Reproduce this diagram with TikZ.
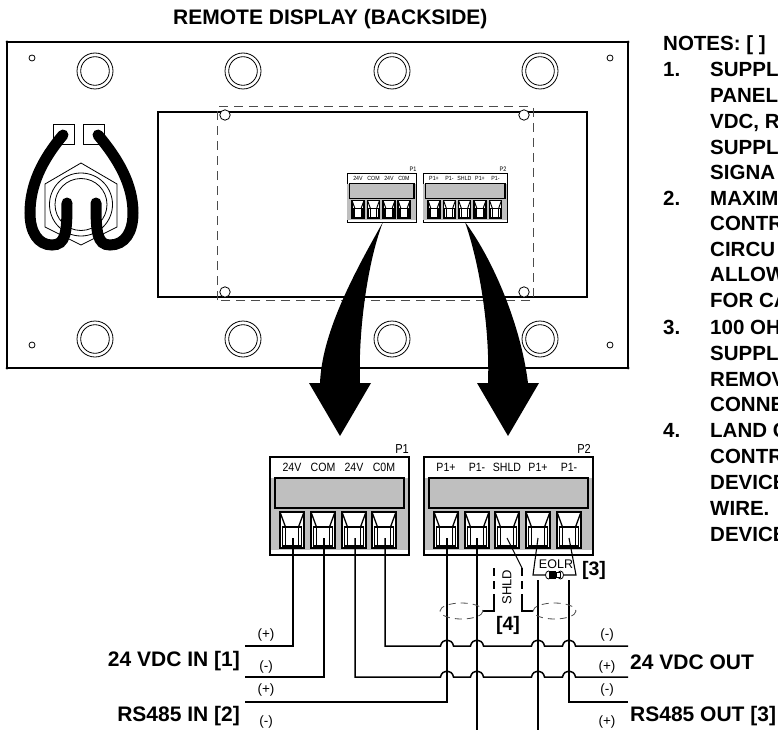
\documentclass[tikz,border=0pt]{standalone}
\usepackage{fontspec}
\setmainfont{Liberation Sans}
\usetikzlibrary{positioning}
\definecolor{termgray}{gray}{0.75}
\definecolor{dashgray}{gray}{0.3}
\tikzset{
  panelline/.style={draw=black,line width=1.6pt},
  thinline/.style={draw=black,line width=0.8pt},
  dashline/.style={draw=dashgray,line width=1pt,dash pattern=on 9pt off 6pt},
  ringline/.style={draw=black,line width=0.8pt},
  wire/.style={draw=black,line width=1.5pt,line join=miter},
  cable/.style={draw=black,line width=11pt,line cap=round},
  bigarrow/.style={fill=black,draw=none},
  heading/.style={font=\fontsize{21}{21}\selectfont\bfseries,inner sep=0pt},
  note/.style={font=\fontsize{20.5}{21}\selectfont\bfseries,inner sep=0pt,anchor=base west},
  polarity/.style={font=\fontsize{13.5}{13.5}\selectfont,inner sep=0pt},
}
\newcommand{\termbox}[3]{% x center, name, scale
  \draw[black,line width=#3*2.4pt,fill=white] (#1-12,512) rectangle (#1+12,548);
  \draw[black,line width=#3*1.3pt] (#1-6.5,527) rectangle (#1+6.5,546);
  \draw[black,line width=#3*1.3pt] (#1-12,512) -- (#1-6.5,527) (#1+12,512) -- (#1+6.5,527);
  \draw[black,line width=#3*1.3pt] (#1-9.5,527) rectangle (#1+9.5,546);
}
\newcommand{\connbody}[3]{% left, right, scale
  \draw[black,line width=#3*1.2pt,fill=white] (#1,457) rectangle (#2,555);
  \fill[termgray] (#1+.6,478) rectangle (#2-.6,550);
  \draw[black,line width=#3*2pt,fill=termgray] (#1+5,478) rectangle (#2-5,508);
}
\newcommand{\connlabel}[3]{% x, text, name
  \node[inner sep=0pt,font=\fontsize{12}{12}\selectfont,xscale=.88] (#3) at (#1,467) {#2};
}
\newcommand{\connone}[1]{%
  \connbody{270}{409}{#1}
  \foreach \t in {292,323,354,384} {\termbox{\t}{a}{#1}}
  \connlabel{292}{24V}{pa}\connlabel{323}{COM}{pb}\connlabel{354}{24V}{pc}\connlabel{384}{C0M}{pd}
  \node[inner sep=0pt,anchor=east,font=\fontsize{13}{13}\selectfont,xscale=.85] (pname) at (409,449) {P1};
}
\newcommand{\conntwo}[1]{%
  \connbody{424}{593}{#1}
  \foreach \t in {446,477,507,538,569} {\termbox{\t}{a}{#1}}
  \connlabel{446}{P1+}{qa}\connlabel{477}{P1-}{qb}\connlabel{507}{SHLD}{qc}\connlabel{538}{P1+}{qd}\connlabel{569}{P1-}{qe}
  \node[inner sep=0pt,anchor=east,font=\fontsize{13}{13}\selectfont,xscale=.85] (qname) at (591,449) {P2};
}
\begin{document}
\begin{tikzpicture}[x=1pt,y=-1pt]
\useasboundingbox (0,0) rectangle (778,730);
% title
\node[heading,anchor=base west] (title) at (173,25) {REMOTE DISPLAY (BACKSIDE)};
% panel
\draw[panelline] (7,42) rectangle (628,368);
\foreach \c in {(7,42),(628,42),(7,368),(628,368)} \fill \c circle (1.5);
\draw[panelline] (158,112) rectangle (587,297);
\draw[dashline] (217,300) -- (217,107) -- (533,107) -- (533,300) -- cycle;
\foreach \c in {(225,115),(524,115),(225,292),(524,292)} \draw[thinline,fill=white] \c circle (5.2);
\foreach \x in {95,243,392,540} \foreach \y in {71,339} {
  \draw[ringline] (\x,\y) circle (18);
  \draw[ringline] (\x,\y) circle (14.3);
}
\foreach \c in {(32,58),(610,58),(32,345),(610,345)} \draw[thinline] \c circle (3);
% glands
\draw[thinline] (53,124) rectangle (74,144);
\draw[thinline] (83,124) rectangle (104,144);
\draw[thinline] (81,163) -- (117,184) -- (117,227) -- (81,245) -- (45,227) -- (45,184) -- cycle;
\draw[thinline,fill=white] (81,204.5) circle (31.5);
\draw[thinline,fill=white] (81,204.5) circle (26);
\draw[cable] (63,135) .. controls (42,160) and (30,185) .. (30,213) .. controls (30,232) and (38,245) .. (52,245) .. controls (66,245) and (67,232) .. (67,203);
\draw[cable] (98,135) .. controls (119,160) and (133,185) .. (133,213) .. controls (133,232) and (125,245) .. (110,245) .. controls (97,245) and (96,232) .. (96,203);
% small connectors
\begin{scope}[shift={(212,-55.5)},scale=.5,transform shape]
\connone{.75}
\end{scope}
\begin{scope}[shift={(211,-55.5)},scale=.5,transform shape]
\conntwo{.75}
\end{scope}
% big arrows
\fill[bigarrow] (383,222) .. controls (350,280) and (322,335) .. (320,383) -- (309,383) -- (340,436) -- (371,383) -- (360,383) .. controls (358,330) and (368,260) .. (383,222) -- cycle;
\fill[bigarrow] (465,222) .. controls (490,255) and (520,320) .. (528,383) -- (539,383) -- (508,436) -- (477,383) -- (488,383) .. controls (490,330) and (480,265) .. (465,222) -- cycle;
% large connectors
\connone{1}
\conntwo{1}
% wiring
\coordinate (w1) at (293,538); \coordinate (w2) at (324,538); \coordinate (w3) at (355,538); \coordinate (w4) at (385,538);
\coordinate (w5) at (447,538); \coordinate (w6) at (477,538); \coordinate (w7) at (507,538); \coordinate (w8) at (538,538); \coordinate (w9) at (569,538);
\coordinate (lft1) at (245,646); \coordinate (lft2) at (245,677); \coordinate (lft3) at (245,702);
\coordinate (rgt1) at (628,646); \coordinate (rgt2) at (628,677); \coordinate (rgt3) at (628,702);
\draw[wire] (w1) |- (lft1);
\draw[wire] (w2) |- (lft2);
\draw[wire] (w5) -- (447,702) -- (lft3);
\draw[wire] (w6) -- (477,730);
\draw[wire] (538,580) -- (538,730);
\draw[wire] (569,580) -- (569,702) -- (rgt3);
\foreach \yy/\st/\en in {646/w4/rgt1,677/w3/rgt2} {
  \draw[wire] (\st) |- (440.5,\yy)
    .. controls (442,\yy-8) and (452,\yy-8) .. (453.5,\yy) -- (470.5,\yy)
    .. controls (472,\yy-8) and (482,\yy-8) .. (483.5,\yy) -- (531.5,\yy)
    .. controls (533,\yy-8) and (543,\yy-8) .. (544.5,\yy) -- (562.5,\yy)
    .. controls (564,\yy-8) and (574,\yy-8) .. (575.5,\yy) -- (\en);
}
% end of line resistor
\node[inner sep=0pt,font=\fontsize{12.5}{12.5}\selectfont] (eolr) at (556,564) {EOLR};
\draw[wire,line width=1.1pt] (w8) -- (533,575) -- (545,575);
\draw[wire,line width=1.1pt] (w9) -- (576,575) -- (564,575);
\draw[black,line width=.8pt] (548.5,575) ellipse (3 and 4);
\draw[black,line width=.8pt] (560.5,575) ellipse (3 and 4);
\fill (549,571) rectangle (556,579);
\draw[black,line width=.8pt,fill=white] (556,572.5) rectangle (560,577.5);
\node[heading,font=\fontsize{19.5}{20}\selectfont\bfseries] (three) at (594,570) {[3]};
% shield
\draw[wire,line width=1.1pt] (w7) -- (522,568);
\draw[dashed,black,line width=1.3pt,dash pattern=on 8pt off 5pt] (522,568) -- (522,597);
\draw[wire,line width=1.1pt] (522,597) -- (522,611) -- (533,611);
\draw[dashed,black,line width=1.3pt,dash pattern=on 8pt off 5pt] (494,568) -- (494,597);
\draw[wire,line width=1.1pt] (494,597) -- (494,611) -- (483,611);
\node[inner sep=0pt,rotate=90,font=\fontsize{13}{13}\selectfont] (shld) at (507,587) {SHLD};
\draw[dashline,line width=.8pt,dash pattern=on 7pt off 5pt] (461.5,611) ellipse (21.5 and 8);
\draw[dashline,line width=.8pt,dash pattern=on 7pt off 5pt] (554.5,611) ellipse (21.5 and 8);
\node[heading,font=\fontsize{19.5}{20}\selectfont\bfseries] (four) at (508,625) {[4]};
% polarity
\node[polarity] (l1) at (266,635) {(+)};
\node[polarity] (l2) at (266,667) {(-)};
\node[polarity] (l3) at (266,690) {(+)};
\node[polarity] (l4) at (266,722) {(-)};
\node[polarity] (r1) at (607,635) {(-)};
\node[polarity] (r2) at (607,667) {(+)};
\node[polarity] (r3) at (607,690) {(-)};
\node[polarity] (r4) at (607,722) {(+)};
% side labels
\node[heading,anchor=base east] (vin) at (240,666) {24 VDC IN [1]};
\node[heading,anchor=base east] (rin) at (240,721) {RS485 IN [2]};
\node[heading,anchor=base west] (vout) at (630,669) {24 VDC OUT};
\node[heading,anchor=base west] (rout) at (630,721) {RS485 OUT [3]};
% notes
\node[note] (nh) at (663,50.5) {NOTES: [ ]};
\foreach \y/\t in {76.5/1.,205.5/2.,334.5/3.,437.5/4.} \node[note] at (663,\y) {\t};
\foreach \y/\t in {76.5/SUPPL,102.5/PANEL,128.5/{VDC, R},154.5/SUPPL,179.5/SIGNA,205.5/MAXIM,230.5/CONTR,256.5/CIRCU,281.5/ALLOW,307.5/{FOR CA},334.5/{100 OH},360.5/SUPPL,386.5/REMOV,411.5/CONNE,437.5/{LAND C},463.5/CONTR,489.5/DEVICE,515.5/{WIRE.},541.5/DEVICE}
  \node[note] at (710,\y) {\t};
\end{tikzpicture}
\end{document}
